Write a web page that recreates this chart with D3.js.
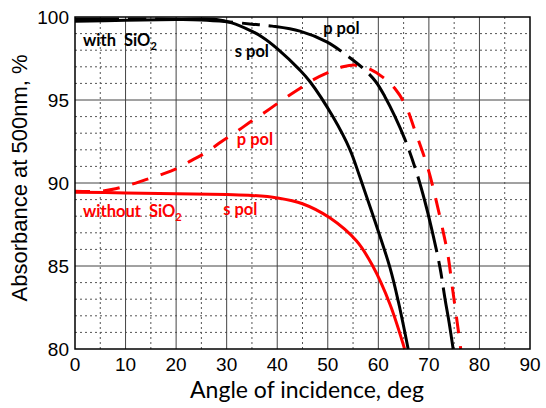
<!DOCTYPE html>
<html>
<head>
<meta charset="utf-8">
<script src="https://cdn.jsdelivr.net/npm/d3@7"></script>
<style>
  body { margin: 0; background: #fff; }
</style>
</head>
<body>
<div id="chart"></div>
<script>
// angle (deg) / absorbance (%)
var blackS = [[0,99.75],[10,99.8],[20,99.85],[28,99.85],[31,99.65],[34.6,99.2],[37,98.8],[40,98.1],[44.5,96.8],[46.5,96.1],[51,94.0],[54.4,92.0],[56.3,90.4],[59,88.0],[62.3,84.9],[64,82.8],[65.9,80]];
var blackP = [[0,99.88],[15,99.88],[25,99.82],[30,99.72],[35,99.57],[39,99.45],[44.5,99.15],[49.8,98.5],[53.7,97.7],[57,96.9],[59.5,96.1],[61.3,95.2],[63.3,94.0],[65.3,92.6],[67.6,90.6],[69.2,88.9],[70.5,87.3],[72.2,84.9],[73.2,83.0],[74,81.6],[74.8,80]];
var redS = [[0,89.45],[10,89.4],[20,89.35],[30,89.3],[35,89.25],[40,89.1],[45,88.75],[50.4,87.9],[55.7,86.5],[58.9,85.0],[62.3,82.7],[65.2,80]];
var redP = [[0,89.5],[5,89.5],[8,89.65],[11,89.9],[14,90.2],[17,90.5],[20,90.85],[23,91.35],[26,91.85],[29,92.5],[32,93.1],[35,93.75],[38,94.35],[41,95.0],[44,95.6],[47,96.2],[50,96.65],[53,97.0],[55.5,97.1],[58,96.9],[61,96.35],[63.5,95.6],[65.5,94.6],[67.2,93.2],[69.8,90.9],[71.2,89.25],[72.8,87.1],[73.8,85.6],[74.6,83.8],[75.6,81.6],[76.3,80]];

var xTicks = [0,10,20,30,40,50,60,70,80,90];
var yTicks = [80,85,90,95,100];

// text labels placed in data coordinates
var labels = [
  {text: "with  SiO", sub: "2", x: 1.6, y: 98.25, color: "#000"},
  {text: "s pol", x: 31.6, y: 97.6, color: "#000"},
  {text: "p pol", x: 49.1, y: 98.95, color: "#000"},
  {text: "p pol", x: 32, y: 92.3, color: "#ff0000"},
  {text: "without  SiO", sub: "2", x: 1.6, y: 87.95, color: "#ff0000"},
  {text: "s pol", x: 29.3, y: 88.05, color: "#ff0000"}
];

var W = 546, H = 408;
var m = {left: 75, top: 17, right: 16, bottom: 59};
var w = W - m.left - m.right, h = H - m.top - m.bottom;

var svg = d3.select("#chart").append("svg")
    .attr("width", W)
    .attr("height", H);

var x = d3.scaleLinear().domain([0, 90]).range([0, w]);
var y = d3.scaleLinear().domain([80, 100]).range([h, 0]);

var g = svg.append("g").attr("transform", "translate(" + m.left + "," + m.top + ")");

// minor dotted grid
g.selectAll(".vminor").data(d3.range(5, 90, 10)).enter()
    .append("line")
    .attr("x1", function (d) { return x(d); }).attr("x2", function (d) { return x(d); })
    .attr("y1", 0).attr("y2", h)
    .attr("stroke", "#555").attr("stroke-width", 1).attr("stroke-dasharray", "2,3");
g.selectAll(".hminor").data(d3.range(81, 100).filter(function (d) { return d % 5 != 0; })).enter()
    .append("line")
    .attr("x1", 0).attr("x2", w)
    .attr("y1", function (d) { return y(d); }).attr("y2", function (d) { return y(d); })
    .attr("stroke", "#555").attr("stroke-width", 1).attr("stroke-dasharray", "2,3");

// major solid grid
g.selectAll(".vmajor").data(xTicks.slice(1, -1)).enter()
    .append("line")
    .attr("x1", function (d) { return x(d); }).attr("x2", function (d) { return x(d); })
    .attr("y1", 0).attr("y2", h)
    .attr("stroke", "#444").attr("stroke-width", 1);
g.selectAll(".hmajor").data(yTicks.slice(1, -1)).enter()
    .append("line")
    .attr("x1", 0).attr("x2", w)
    .attr("y1", function (d) { return y(d); }).attr("y2", function (d) { return y(d); })
    .attr("stroke", "#444").attr("stroke-width", 1);

// curves
var line = d3.line()
    .x(function (d) { return x(d[0]); })
    .y(function (d) { return y(d[1]); })
    .curve(d3.curveCatmullRom.alpha(0.5));

g.append("path").datum(redS).attr("d", line)
    .attr("fill", "none").attr("stroke", "#ff0000").attr("stroke-width", 3);
g.append("path").datum(redP).attr("d", line)
    .attr("fill", "none").attr("stroke", "#ff0000").attr("stroke-width", 3)
    .attr("stroke-dasharray", "17,13").attr("stroke-dashoffset", 2);
g.append("path").datum(blackS).attr("d", line)
    .attr("fill", "none").attr("stroke", "#000").attr("stroke-width", 3);
g.append("path").datum(blackP).attr("d", line)
    .attr("fill", "none").attr("stroke", "#000").attr("stroke-width", 3)
    .attr("stroke-dasharray", "78,9,18,9").attr("stroke-dashoffset", 34);

// frame
g.append("rect").attr("width", w).attr("height", h)
    .attr("fill", "none").attr("stroke", "#000").attr("stroke-width", 1.5);

// tick labels
g.selectAll(".xt").data(xTicks).enter()
    .append("text")
    .attr("x", function (d) { return x(d); })
    .attr("y", h + 22)
    .attr("text-anchor", "middle")
    .style("font-family", "Liberation Sans, Arial, sans-serif")
    .style("font-size", "19px")
    .text(function (d) { return d; });
g.selectAll(".yt").data(yTicks).enter()
    .append("text")
    .attr("x", -6)
    .attr("y", function (d) { return y(d) + 7; })
    .attr("text-anchor", "end")
    .style("font-family", "Liberation Sans, Arial, sans-serif")
    .style("font-size", "19px")
    .text(function (d) { return d; });

// annotations
labels.forEach(function (l) {
    var t = g.append("text")
        .attr("x", x(l.x)).attr("y", y(l.y))
        .attr("fill", l.color)
        .style("font-family", "Lato, sans-serif")
        .style("font-weight", "bold")
        .style("font-size", "16.5px")
        .style("white-space", "pre")
        .attr("xml:space", "preserve");
    t.append("tspan").text(l.text);
    if (l.sub) t.append("tspan").attr("dy", 4).style("font-size", "11px").text(l.sub);
});

// axis titles
svg.append("text")
    .attr("x", 307).attr("y", 398)
    .attr("text-anchor", "middle")
    .style("font-family", "Lato, sans-serif")
    .style("font-size", "23px")
    .text("Angle of incidence, deg");
svg.append("text")
    .attr("transform", "translate(27,178) rotate(-90)")
    .attr("text-anchor", "middle")
    .style("font-family", "Liberation Sans, Arial, sans-serif")
    .style("font-size", "22px")
    .text("Absorbance at 500nm, %");
</script>
</body>
</html>
